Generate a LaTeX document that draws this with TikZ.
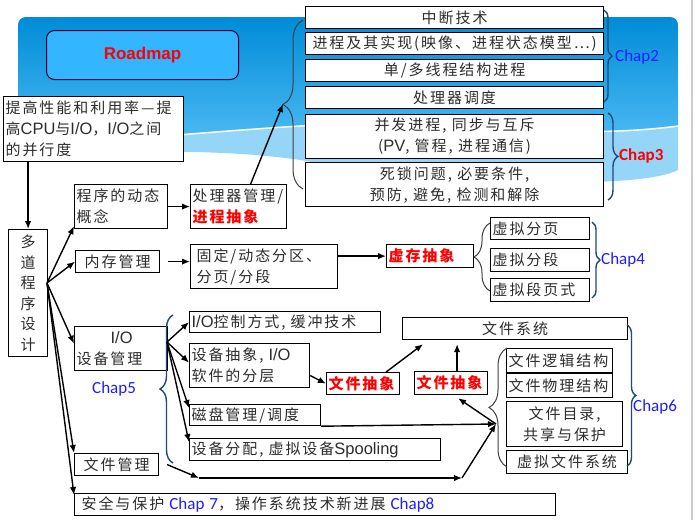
\documentclass[tikz,border=0pt]{standalone}
\usepackage{fontspec}
\setmainfont{Liberation Sans}
\newfontfamily\zhfont[LetterSpace=13]{Noto Sans CJK SC}
\newfontfamily\ltnfont{Liberation Sans}
\newfontfamily\chapfont{Carlito}
\usetikzlibrary{positioning,arrows.meta,decorations.pathreplacing,calc}
\definecolor{hdtop}{RGB}{0,140,215}
\definecolor{hdbot}{RGB}{80,188,245}
\definecolor{hdband}{RGB}{148,213,248}
\definecolor{mapfill}{RGB}{51,181,255}
\definecolor{chapblue}{RGB}{30,30,255}
\definecolor{bracenavy}{RGB}{31,73,125}
\definecolor{txtgray}{RGB}{45,45,45}
\newcommand{\ltn}[1]{{\ltnfont\fontsize{16.5}{21}\selectfont #1}}
\newcommand{\redabs}[1]{{\color{red}\bfseries #1}}
\newcommand{\chapref}[1]{{\chapfont\fontsize{17}{21}\selectfont\color{chapblue}#1}}

\begin{document}
\begin{tikzpicture}[x=1pt,y=-1pt,
  box/.style={draw=black,line width=1.2pt,fill=white,anchor=north west,
    inner xsep=2pt,inner ysep=0pt,font=\zhfont\fontsize{15}{21}\selectfont,text=txtgray},
  wh/.style 2 args={minimum width=#1pt,minimum height=#2pt},
  lbox/.style 2 args={box,wh={#1}{#2},text width=#1pt-4pt,align=left},
  arr/.style={-{Latex[length=8pt,width=6.5pt]},line width=1.4pt},
  chap/.style={font=\chapfont\fontsize{17}{20}\selectfont,text=chapblue,anchor=west,inner xsep=0pt},
  gbrace/.style={decorate,decoration={brace,amplitude=#1},draw=black!75,line width=1pt},
  cbrace/.style={decorate,decoration={brace,amplitude=#1},draw=bracenavy,line width=1.4pt}]
\useasboundingbox (0,0) rectangle (696,520);
\fill[white] (0,0) rectangle (696,520);
\fill[hdband,rounded corners=8pt] (18,160) -- (18,17) -- (678,17) [sharp corners] -- (678,170)
  .. controls (640,190) and (450,185) .. (300,160) .. controls (220,148) and (100,150) .. (18,160);
\shade[top color=hdtop,bottom color=hdbot,rounded corners=8pt] (18,148) -- (18,17) -- (678,17) [sharp corners] -- (678,126)
  .. controls (560,142) and (420,118) .. (300,126) .. controls (220,131) and (120,140) .. (18,148) -- cycle;
\draw[white,line width=1.5pt] (678,126) .. controls (560,142) and (420,118) .. (300,126)
  .. controls (220,131) and (120,140) .. (18,148);
\draw[black!20,line width=1.5pt] (692,0) -- (692,520);

\node[draw=black!80!blue,fill=mapfill,rounded corners=8pt,line width=1pt,anchor=north west,
  minimum width=192pt,minimum height=49pt,font=\ltnfont\bfseries\fontsize{17}{20}\selectfont,text=red]
  (map) at (46,30) {Roadmap};

\node[box,wh={298}{22}] (intr) at (305,6) {中断技术};
\node[box,wh={298}{22}] (proc) at (305,32) {进程及其实现(映像、进程状态模型…)};
\node[box,wh={298}{22}] (thr) at (305,59) {单/多线程结构进程};
\node[box,wh={298}{22}] (sched) at (305,86) {处理器调度};
\node[box,wh={298}{44},align=center] (conc) at (305,114) {并发进程, 同步与互斥\\(\ltn{PV}, 管程, 进程通信)};
\node[box,wh={298}{44},align=center] (dead) at (305,162) {死锁问题, 必要条件,\\预防, 避免, 检测和解除};

\node[lbox={180}{65}] (goal) at (3,96) {提高性能和利用率—提\\高\ltn{CPU}与\ltn{I/O}，\ltn{I/O}之间\\的并行度};
\node[box,wh={39}{127},align=center,font=\zhfont\fontsize{15}{20.5}\selectfont] (multi) at (8,229) {多\\道\\程\\序\\设\\计};

\node[lbox={93}{44}] (dyn) at (74,184) {程序的动态\\概念};
\node[lbox={96}{44}] (cpu) at (190,184) {处理器管理/\\\redabs{进程抽象}};
\node[box,wh={84}{22}] (mem) at (75,250) {内存管理};
\node[lbox={147}{44},inner xsep=6pt,text width=135pt] (part) at (190,244) {固定/动态分区、\\分页/分段};
\node[lbox={87}{23}] (vmem) at (386,244) {\redabs{虚存抽象}};
\node[lbox={99}{22}] (vpage) at (490,217) {虚拟分页};
\node[lbox={99}{23}] (vseg) at (490,248) {虚拟分段};
\node[lbox={99}{23}] (vsp) at (490,278) {虚拟段页式};

\node[lbox={93}{44}] (io) at (74,326) {\hspace*{34pt}\ltn{I/O}\\设备管理};
\node[lbox={191}{21}] (ioctl) at (189,311) {\ltn{I/O}控制方式, 缓冲技术};
\node[lbox={120}{44}] (devabs) at (189,343) {设备抽象, \ltn{I/O}\\软件的分层};
\node[lbox={131}{21}] (disk) at (189,404) {磁盘管理/调度};
\node[lbox={251}{22}] (alloc) at (189,438) {设备分配, 虚拟设备\ltn{Spooling}};
\node[lbox={73}{22}] (fabsa) at (326,372) {\redabs{文件抽象}};
\node[lbox={73}{23}] (fabsb) at (414,371) {\redabs{文件抽象}};
\node[box,wh={225}{22}] (fsys) at (402,317) {文件系统};
\node[lbox={106}{24}] (flog) at (506,348) {文件逻辑结构};
\node[lbox={106}{24}] (fphy) at (506,373) {文件物理结构};
\node[box,wh={116}{45},align=center] (fdir) at (506,401) {文件目录,\\共享与保护};
\node[box,wh={121}{23}] (vfs) at (506,450) {虚拟文件系统};
\node[box,wh={84}{22}] (fmgr) at (74,453) {文件管理};
\node[lbox={481}{22},inner xsep=7pt,text width=467pt] (sec) at (74,493)
  {安全与保护 \chapref{Chap 7}，操作系统技术新进展 \chapref{Chap8}};

\node[chap] (c2) at (615,57) {Chap2};
\node[chap,text=red,font=\chapfont\bfseries\fontsize{17}{20}\selectfont] (c3) at (619,156) {Chap3};
\node[chap] (c4) at (601,260) {Chap4};
\node[chap] (c5) at (92,389) {Chap5};
\node[chap] (c6) at (633,407) {Chap6};

\draw[gbrace=20pt] (303,189) -- (303,20);
\draw[cbrace=8pt] (604,10) -- (604,102);
\draw[cbrace=10pt] (608,113) -- (608,200);
\draw[cbrace=8pt] (592,222) -- (592,298);
\draw[cbrace=13pt] (173,463) -- (173,315);
\draw[gbrace=16pt] (490,291) -- (490,223);
\draw[gbrace=18pt] (507,467) -- (507,348);
\draw[cbrace=9pt] (627,325) -- (627,466);

\coordinate (fan) at (47,283);
\coordinate (prtip) at (283,104);
\coordinate (iofan) at (167,342);
\coordinate (fhub) at (496,424);
\coordinate (fmid) at (199,478);
\coordinate (fend) at (462,478);

\draw[arr] (goal.south -| multi.north) -- (multi.north);
\draw[arr] (fan) -- ([yshift=3pt]dyn.south west);
\draw[arr] (fan) -- (mem.west);
\draw[arr] (fan) -- ([yshift=5pt]io.west);
\draw[arr] (fan) -- (fmgr.north west);
\draw[arr] (fan) -- ([yshift=-2pt]sec.north west);
\draw[arr] (dyn.east) -- (cpu.west);
\draw[arr] ([xshift=12pt]cpu.north) -- (prtip);
\draw[arr] ([xshift=8pt]mem.east) -- (mem.east -| part.west);
\draw[arr] (part.east |- vmem.west) -- (vmem.west);
\draw[arr] (iofan) -- (ioctl.west);
\draw[arr] (iofan) -- ([yshift=3pt]devabs.west);
\draw[arr] (iofan) -- ([yshift=-4pt]disk.north west);
\draw[arr] (iofan) -- ([yshift=-4pt]alloc.north west);
\draw[arr] ([yshift=-10pt]devabs.east) -- (fabsa.west);
\draw[arr] ([xshift=23pt]fabsa.north) -- ($(fsys.south west)+(21,4)$);
\draw[arr] ([xshift=6pt]fabsb.north) -- ([xshift=6pt,yshift=-4pt]fabsb.north |- fsys.south);
\draw[arr] (disk.south east) -- (fhub);
\draw[arr] ([xshift=8pt]fmgr.east) -- (fmid);
\draw[arr] (fmid) -- (fend);
\draw[arr] (fend) -- (fhub);
\draw[arr] (fhub) -- ([xshift=7pt,yshift=-3pt]fabsb.south);
\end{tikzpicture}
\end{document}
